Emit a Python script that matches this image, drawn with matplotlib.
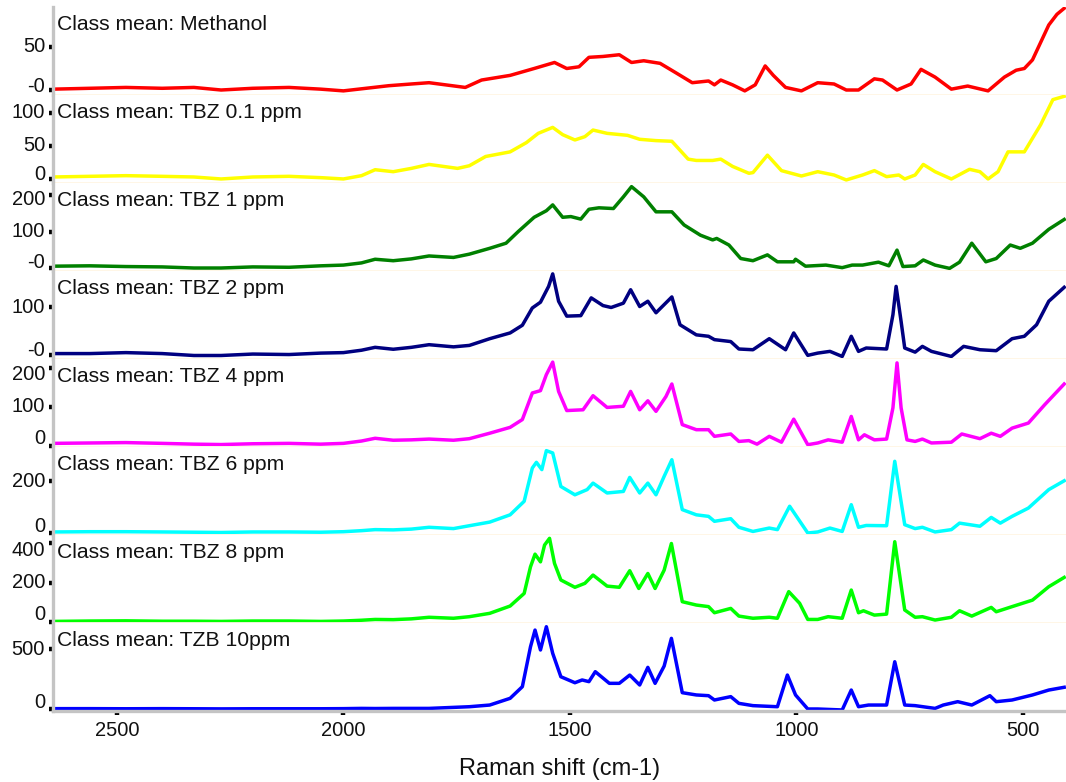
# class mean Raman spectra, one stacked panel per class, shared (inverted) Raman shift axis

import matplotlib.pyplot as plt
from matplotlib.ticker import FixedLocator, MultipleLocator

plt.rcParams["font.family"] = ["Liberation Sans", "DejaVu Sans"]

# left part of every spectrum shares these shifts (cm-1)
base_shift = [2641, 2560, 2480, 2400, 2330, 2270, 2200, 2120, 2050, 2000, 1960, 1930, 1890, 1850]

methanol_shift = [2641, 2560, 2480, 2400, 2330, 2270, 2200, 2120, 2050, 2000, 1950, 1900, 1850,
                  1811, 1731, 1695, 1632, 1579, 1534, 1507, 1480, 1458, 1427, 1391, 1364, 1337, 1301,
                  1266, 1230, 1194, 1181, 1167, 1141, 1114, 1091, 1069, 1051, 1024, 989, 953, 917,
                  890, 863, 828, 810, 778, 747, 725, 694, 658, 622, 577, 541, 515, 497, 479, 443,
                  425, 409]
methanol_int = [1, 2, 3, 2, 3, 0, 2, 3, 1, -1, 2, 5, 7,
                8.5, 3, 11.6, 17, 25, 32, 25, 27, 38, 39, 41, 32, 34, 31,
                20, 8.5, 10.5, 6, 11.6, 6, -1, 6, 28, 17, 3, -1, 8.5, 7,
                0, 0, 13, 11.6, 0, 7, 24, 15, 1, 4.6, -1, 15, 23, 25, 35, 75.6,
                88, 95]

tbz01_shift = base_shift + [1811, 1748, 1722, 1686, 1632, 1596, 1570, 1538, 1516, 1489, 1467, 1449,
                            1418, 1373, 1346, 1310, 1275, 1239, 1221, 1185, 1167, 1141, 1105, 1096,
                            1064, 1033, 989, 953, 917, 890, 854, 828, 801, 774, 761, 738, 720, 694,
                            658, 618, 595, 577, 555, 533, 497, 461, 434, 409]
tbz01_int = [3, 4, 5, 4, 3, 0, 3, 4, 2, 0, 5, 14, 11, 16,
             22, 16, 20, 34, 41, 55, 69, 78, 67, 59, 64, 74,
             69, 66, 60, 58, 57, 30, 28, 28, 30, 19, 8.6, 9.6,
             36, 12.6, 4.5, 11, 6, -1.5, 6, 12.6, 3.5, 6, 0, 6, 22, 11,
             0, 14.6, 11, 0, 11, 41, 41, 82, 120, 125]

tbz1_shift = base_shift + [1811, 1757, 1722, 1677, 1641, 1614, 1579, 1552, 1538, 1516, 1498, 1476,
                           1458, 1436, 1404, 1382, 1364, 1337, 1310, 1275, 1248, 1212, 1185, 1176,
                           1149, 1123, 1096, 1064, 1042, 1006, 1002, 980, 935, 899, 877, 854, 819,
                           796, 778, 765, 738, 720, 694, 662, 640, 613, 582, 559, 528, 506, 479,
                           443, 409]
tbz1_int = [5, 6, 4, 3, 0, 0, 3, 2, 6, 8, 14, 24, 20, 25,
            33, 29, 38, 54, 68, 100, 139, 157, 173, 139, 141, 134,
            161, 165, 163, 195, 223, 195, 154, 154, 118, 90, 77, 81,
            63, 26, 20, 36, 17, 17, 24, 5, 8, 1, 8, 8, 16,
            6, 49, 4, 6, 22, 8, -1, 16, 68, 17, 26, 63, 54, 68,
            106, 133]

tbz2_shift = base_shift + [1811, 1757, 1722, 1677, 1632, 1605, 1583, 1565, 1547, 1538, 1525, 1507,
                           1476, 1453, 1427, 1409, 1382, 1366, 1346, 1328, 1310, 1275, 1257, 1221,
                           1194, 1181, 1145, 1127, 1096, 1060, 1024, 1006, 975, 953, 926, 899, 879,
                           863, 846, 801, 787, 780, 769, 761, 738, 722, 702, 658, 631, 595, 559,
                           524, 497, 470, 443, 409]
tbz2_int = [3, 3, 5, 3, -1, -1, 2, 1, 4, 5, 10, 16, 12, 16,
            21.5, 17, 20, 34, 46, 62, 98, 110, 143, 169, 112, 81,
            82, 119, 103, 99, 108, 136, 101, 112, 88, 121, 63, 42,
            39, 32, 28, 12.5, 11, 34, 11, 46, -0.7, 4, 7.6, -3, 39,
            7.6, 14.6, 12.5, 84, 143, 70, 14.6, 6, 18, 7.6, -3, 18, 11, 9,
            34, 39, 63, 112, 141]

tbz4_shift = base_shift + [1811, 1757, 1722, 1677, 1632, 1605, 1583, 1565, 1552, 1538, 1525, 1507,
                           1471, 1449, 1418, 1382, 1366, 1346, 1328, 1310, 1288, 1275, 1252, 1221,
                           1194, 1181, 1145, 1127, 1105, 1087, 1060, 1033, 1006, 975, 953, 930, 899,
                           879, 863, 850, 828, 801, 787, 778, 769, 756, 738, 722, 702, 658, 635,
                           595, 570, 550, 524, 488, 452, 409]
tbz4_int = [6, 7, 8, 6, 4, 3, 5, 6, 4, 6, 12, 19, 14, 15,
            17, 14, 18, 32, 47, 67, 135, 141, 182, 214, 139, 90,
            92, 128, 98, 101, 139, 92, 115, 88, 126, 158, 54, 41,
            41, 24, 30, 11, 13, 4, 24, 9, 68, 2.6, 7, 15, 9,
            75, 15, 28, 15, 17, 97, 212, 97, 15, 11, 17, 7, 9, 30,
            18, 32, 24, 45, 58, 105, 158]

tbz6_shift = base_shift + [1811, 1757, 1722, 1677, 1632, 1601, 1583, 1574, 1562, 1552, 1538, 1520,
                           1489, 1462, 1449, 1418, 1382, 1368, 1346, 1328, 1310, 1292, 1275, 1252,
                           1221, 1194, 1181, 1145, 1127, 1096, 1060, 1042, 1015, 975, 953, 926, 899,
                           879, 863, 846, 801, 783, 761, 738, 722, 694, 658, 640, 595, 570, 550,
                           524, 488, 443, 409]
tbz6_int = [4, 5, 5, 4, 3, 2, 4, 4, 3, 5, 9, 13, 12, 15,
            22, 17, 28, 42, 70, 122, 250, 272, 244, 317, 308, 179,
            147, 167, 192, 154, 160, 214, 154, 192, 147, 218, 282, 90,
            70, 64, 45, 55, 22, 6, 19, 13, 103, 0, 4, 19, 6,
            109, 22, 29, 28, 276, 32, 17, 22, 4, 13, 38, 26, 60, 38,
            64, 96, 167, 201]

tbz8_shift = base_shift + [1811, 1757, 1722, 1677, 1632, 1601, 1587, 1577, 1565, 1556, 1545, 1534,
                           1520, 1489, 1467, 1449, 1418, 1391, 1368, 1348, 1328, 1312, 1292, 1276,
                           1252, 1221, 1194, 1181, 1145, 1127, 1096, 1060, 1042, 1017, 993, 975, 953,
                           930, 899, 879, 863, 852, 828, 801, 783, 761, 738, 722, 694, 658, 640,
                           613, 570, 559, 524, 479, 443, 409]
tbz8_int = [3, 5, 6, 4, 4, 3, 5, 5, 3, 5, 9, 13, 12, 16,
            24, 19, 27, 44, 81, 145, 280, 344, 305, 390, 424, 297,
            213, 176, 196, 238, 182, 176, 260, 170, 246, 170, 263, 398,
            103, 86, 78, 47, 69, 30, 19, 24, 19, 154, 95, 13, 13,
            27, 19, 162, 47, 57, 35, 40, 407, 61, 24, 27, 10, 24, 57,
            30, 74, 52, 78, 111, 179, 226]

tzb10_shift = base_shift + [1811, 1722, 1677, 1632, 1605, 1587, 1577, 1565, 1552, 1538, 1520, 1489,
                            1473, 1458, 1444, 1413, 1391, 1368, 1346, 1328, 1312, 1292, 1276, 1252,
                            1221, 1194, 1181, 1145, 1127, 1096, 1042, 1020, 1002, 975, 953, 899, 879,
                            863, 841, 801, 783, 761, 738, 694, 676, 644, 613, 573, 559, 524, 479,
                            443, 409]
tzb10_int = [3, 3, 2, 3, 2, 1, 2, 2, 2, 3, 5, 4, 5, 5,
             5, 19, 33, 89, 186, 519, 658, 492, 686, 464, 269, 219,
             242, 228, 311, 214, 214, 283, 200, 347, 214, 358, 589, 136,
             117, 111, 75, 103, 47, 28, 19, 283, 117, 0, 0, -8, 158,
             19, 33, 33, 394, 33, 28, 5, 33, 61, 33, 111, 61, 75, 117,
             158, 181]

class_names = ["Methanol", "TBZ 0.1 ppm", "TBZ 1 ppm", "TBZ 2 ppm",
               "TBZ 4 ppm", "TBZ 6 ppm", "TBZ 8 ppm", "TZB 10ppm"]
shifts = [methanol_shift, tbz01_shift, tbz1_shift, tbz2_shift,
          tbz4_shift, tbz6_shift, tbz8_shift, tzb10_shift]
intensities = [methanol_int, tbz01_int, tbz1_int, tbz2_int,
               tbz4_int, tbz6_int, tbz8_int, tzb10_int]
colors = ["#ff0000", "#ffff00", "#008000", "#000080",
          "#ff00ff", "#00ffff", "#00ff00", "#0000ff"]
y_limits = [(-5.8, 96.5), (-6.1, 127), (-8.2, 233), (-8.3, 175),
            (-3.3, 222), (-7.7, 331), (-5, 441), (-16.7, 717)]
y_ticks = [[0, 50], [0, 50, 100], [0, 100, 200], [0, 100],
           [0, 100, 200], [0, 200], [0, 200, 400], [0, 500]]
y_tick_labels = [["-0", "50"], ["0", "50", "100"], ["-0", "100", "200"], ["-0", "100"],
                 ["0", "100", "200"], ["0", "200"], ["0", "200", "400"], ["0", "500"]]

W, H = 1066, 782
fig = plt.figure(figsize=(W / 100, H / 100), dpi=100)

left_px, top_px, panel_px = 53, 7, 88
axis_grey = "#c4c4c4"
ink = "#111111"

for i in range(8):
    bottom_px = top_px + panel_px * (i + 1)
    ax = fig.add_axes([left_px / W, 1 - bottom_px / H, (W - left_px) / W, panel_px / H])
    ax.plot(shifts[i], intensities[i], color=colors[i], lw=2.5, solid_joinstyle="round")
    ax.set_xlim(2641, 405)
    lo, hi = y_limits[i]
    ax.set_ylim(lo, hi)
    ax.set_yticks(y_ticks[i])
    ax.tick_params(axis="y", direction="out", length=3, width=3.2, color="black",
                   labelleft=False)

    # tick labels are kept inside their own panel, like the original software does
    for t, lab in zip(y_ticks[i], y_tick_labels[i]):
        frac = (t - lo) / (hi - lo)
        px_from_bottom = min(max(frac * panel_px, 8), panel_px - 16)
        ax.text(-8 / (W - left_px), px_from_bottom / panel_px, lab, transform=ax.transAxes,
                fontsize=14.5, ha="right", va="center", color=ink)

    ax.text(4 / (W - left_px), 1 - 23 / panel_px, "Class mean: " + class_names[i],
            transform=ax.transAxes, fontsize=15.2, va="baseline", ha="left", color=ink)

    for side in ["top", "right"]:
        ax.spines[side].set_visible(False)
    ax.spines["left"].set_color(axis_grey)
    ax.spines["left"].set_linewidth(2.4)

    if i < 7:
        ax.spines["bottom"].set_color("#fff6e4")
        ax.spines["bottom"].set_linewidth(2)
        ax.tick_params(axis="x", bottom=False, labelbottom=False)
    else:
        ax.spines["bottom"].set_color(axis_grey)
        ax.spines["bottom"].set_linewidth(2.4)
        ax.xaxis.set_major_locator(FixedLocator([2500, 2000, 1500, 1000, 500]))
        ax.xaxis.set_minor_locator(MultipleLocator(100))
        ax.tick_params(axis="x", which="major", direction="out", length=3, width=3.2,
                       color="black", labelsize=14.5, pad=4, labelcolor=ink)
        ax.tick_params(axis="x", which="minor", direction="out", length=1.5, width=2.6,
                       color="black")
        ax.set_xlabel("Raman shift (cm-1)", fontsize=17, labelpad=13, color=ink)

plt.savefig("out.png", dpi=100)
